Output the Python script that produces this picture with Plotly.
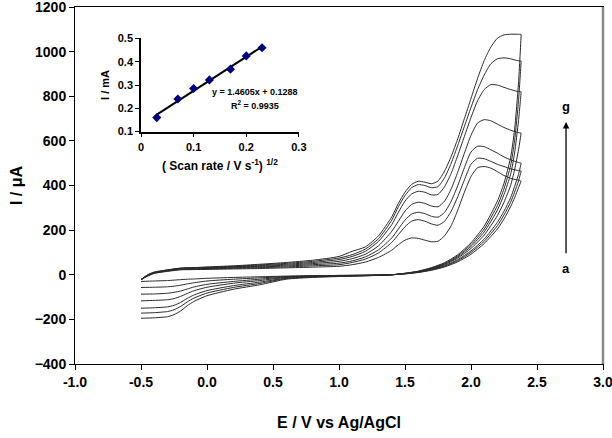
import plotly.graph_objects as go

# ---------------- data ----------------
curve_names = ["a", "b", "c", "d", "e", "f", "g"]

E_fwd = [-0.5, -0.45, -0.4, -0.3, -0.2, -0.1, 0.0, 0.2, 0.4, 0.6, 0.8, 1.0, 1.1, 1.2, 1.3,
         1.4, 1.45, 1.5, 1.55, 1.6, 1.65, 1.7, 1.75, 1.8, 1.85, 1.9, 1.95, 2.0, 2.05, 2.1,
         2.15, 2.2, 2.25, 2.3, 2.35, 2.38]

I_fwd = {
    "a": [-22, -6, 6, 15, 22, 23, 24, 26, 28, 31, 34, 38, 45, 57, 78,
          110, 135, 155, 165, 163, 155, 148, 150, 175, 220, 290, 370, 440, 480, 485,
          478, 462, 445, 432, 425, 420],
    "b": [-22, -5, 7, 17, 24, 25, 26, 29, 32, 35, 40, 45, 55, 70, 98,
          145, 180, 215, 240, 247, 240, 228, 222, 240, 285, 350, 425, 495, 522, 520,
          508, 495, 485, 475, 468, 465],
    "c": [-22, -4, 8, 18, 26, 27, 28, 31, 35, 39, 45, 52, 62, 80, 112,
          165, 205, 245, 272, 280, 274, 262, 258, 280, 330, 400, 480, 550, 576, 574,
          560, 545, 528, 515, 505, 500],
    "d": [-22, -3, 9, 19, 27, 29, 30, 34, 38, 43, 50, 60, 72, 92, 130,
          195, 240, 285, 315, 325, 320, 308, 305, 330, 385, 460, 545, 625, 680, 695,
          690, 675, 660, 648, 638, 635],
    "e": [-22, -2, 10, 20, 28, 30, 32, 36, 41, 47, 55, 68, 82, 105, 150,
          225, 280, 330, 362, 374, 370, 358, 360, 395, 455, 535, 620, 705, 780, 830,
          852, 850, 840, 830, 822, 820],
    "f": [-22, -1, 11, 21, 29, 31, 33, 38, 44, 51, 60, 75, 90, 115, 162,
          245, 305, 355, 390, 404, 400, 390, 395, 435, 500, 580, 665, 750, 830, 895,
          945, 968, 972, 968, 960, 958],
    "g": [-22, 0, 12, 22, 30, 32, 35, 40, 47, 55, 65, 82, 105, 125, 175,
          260, 320, 370, 405, 419, 415, 408, 420, 465, 530, 610, 700, 790, 880, 960,
          1020, 1060, 1075, 1078, 1078, 1077],
}

E_rev = [2.38, 2.36, 2.33, 2.3, 2.25, 2.2, 2.1, 2.0, 1.9, 1.8, 1.7, 1.6, 1.5, 1.4, 1.2,
         1.0, 0.8, 0.6, 0.4, 0.2, 0.0, -0.1, -0.15, -0.2, -0.25, -0.3, -0.4, -0.5]

I_rev = {
    "a": [420, 390, 345, 305, 250, 205, 140, 92, 58, 35, 20, 10, 4, 0, -2,
          -3, -4, -6, -9, -12, -16, -19, -20, -22, -24, -26, -28, -30],
    "b": [465, 420, 370, 325, 268, 220, 150, 100, 63, 38, 22, 11, 4, 0, -2,
          -3, -5, -8, -14, -20, -28, -36, -41, -47, -51, -54, -56, -57],
    "c": [500, 450, 395, 345, 285, 235, 160, 107, 68, 41, 24, 12, 5, 0, -2,
          -4, -6, -10, -20, -30, -43, -55, -64, -73, -79, -83, -86, -87],
    "d": [635, 560, 470, 400, 325, 265, 178, 118, 75, 45, 26, 13, 5, 0, -3,
          -5, -7, -12, -26, -38, -56, -72, -84, -97, -107, -112, -115, -117],
    "e": [820, 690, 545, 450, 360, 290, 192, 127, 80, 48, 28, 14, 6, 0, -4,
          -6, -9, -15, -33, -49, -71, -91, -106, -124, -137, -144, -148, -150],
    "f": [958, 780, 600, 490, 385, 310, 205, 135, 85, 51, 30, 15, 6, 0, -4,
          -7, -10, -17, -39, -57, -82, -105, -122, -142, -157, -165, -170, -172],
    "g": [1077, 860, 650, 525, 410, 330, 218, 143, 90, 54, 32, 16, 7, 0, -5,
          -8, -12, -20, -45, -65, -94, -120, -139, -162, -179, -188, -193, -195],
}

# inset data
scan_rate_sqrt = [0.03, 0.07, 0.10, 0.13, 0.17, 0.20, 0.23]
peak_current_mA = [0.160, 0.240, 0.285, 0.322, 0.368, 0.425, 0.460]
fit_slope = 1.4605
fit_intercept = 0.1288
fit_r2 = 0.9935
fit_x = [0.03, 0.23]

x_ticks = [-1.0, -0.5, 0.0, 0.5, 1.0, 1.5, 2.0, 2.5, 3.0]
y_ticks = [-400, -200, 0, 200, 400, 600, 800, 1000, 1200]

# ---------------- figure ----------------
FONT = "Liberation Sans, Arial, sans-serif"
fig = go.Figure()

for name in curve_names:
    fig.add_trace(go.Scatter(
        x=E_fwd + E_rev, y=I_fwd[name] + I_rev[name],
        mode="lines", line=dict(color="#2a2a2a", width=1, shape="spline", smoothing=0.6),
        showlegend=False, hoverinfo="skip", xaxis="x", yaxis="y"))

fig.add_trace(go.Scatter(
    x=fit_x, y=[fit_slope * v + fit_intercept for v in fit_x],
    mode="lines", line=dict(color="black", width=2),
    showlegend=False, xaxis="x2", yaxis="y2"))
fig.add_trace(go.Scatter(
    x=scan_rate_sqrt, y=peak_current_mA, mode="markers",
    marker=dict(symbol="diamond", size=7, color="#000080"),
    showlegend=False, xaxis="x2", yaxis="y2"))

fig.update_layout(
    width=612, height=438,
    margin=dict(l=75, r=9, t=7, b=74),
    paper_bgcolor="white", plot_bgcolor="white",
    font=dict(family=FONT, color="black", size=14, weight="bold"),
    xaxis=dict(domain=[0, 1], range=[-1.0, 3.0], tickvals=x_ticks,
               ticktext=[f"{v:.1f}" for v in x_ticks], automargin=False,
               ticklabeloverflow="allow",
               showline=True, linecolor="black", linewidth=1, mirror=True,
               ticks="outside", ticklen=5, tickcolor="black", showgrid=False, zeroline=False,
               tickfont=dict(size=14, weight="bold"),
               title=dict(text="E / V vs Ag/AgCl", font=dict(size=16, weight="bold"), standoff=28)),
    yaxis=dict(domain=[0, 1], range=[-400, 1200], tickvals=y_ticks, automargin=False,
               ticklabeloverflow="allow",
               showline=True, linecolor="black", linewidth=1, mirror=True,
               ticks="outside", ticklen=5, tickcolor="black", showgrid=False, zeroline=False,
               tickfont=dict(size=14, weight="bold"),
               title=dict(text="I / μA", font=dict(size=16, weight="bold"), standoff=8)),
    xaxis2=dict(domain=[0.125, 0.424], anchor="y2", range=[0, 0.3], dtick=0.1,
                automargin=False,
                showline=True, linecolor="black", linewidth=1.5, ticks="outside", ticklen=4,
                tickcolor="black", showgrid=False, zeroline=False,
                tickfont=dict(size=11, weight="bold"),
                title=dict(text="( Scan rate / V s<sup>-1</sup>) <sup>1/2</sup>",
                           font=dict(size=12, weight="bold"), standoff=10)),
    yaxis2=dict(domain=[0.651, 0.912], anchor="x2", range=[0.1, 0.5], dtick=0.1,
                automargin=False,
                showline=True, linecolor="black", linewidth=1.5, ticks="outside", ticklen=4,
                tickcolor="black", showgrid=False, zeroline=False,
                tickfont=dict(size=11, weight="bold"),
                title=dict(text="I / mA", font=dict(size=11, weight="bold"), standoff=6)),
)

# gray right border of the plot area
fig.add_shape(type="line", xref="paper", yref="paper", x0=1, x1=1, y0=0, y1=1,
              line=dict(color="#888888", width=2.5))

# fit equation
fig.add_annotation(x=0.216, y=0.270, xref="x2", yref="y2",
                   text=f"y = {fit_slope}x + {fit_intercept}", showarrow=False,
                   font=dict(size=9, weight="bold"))
fig.add_annotation(x=0.216, y=0.213, xref="x2", yref="y2",
                   text=f"R<sup>2</sup> = {fit_r2}", showarrow=False,
                   font=dict(size=9, weight="bold"))

# scan-rate arrow a -> g
fig.add_annotation(x=2.72, y=685, ax=2.72, ay=90, xref="x", yref="y", axref="x", ayref="y",
                   text="", showarrow=True, arrowhead=2, arrowsize=1, arrowwidth=1.3,
                   arrowcolor="black")
fig.add_annotation(x=2.72, y=755, xref="x", yref="y", text="g", showarrow=False,
                   font=dict(size=13, weight="bold"))
fig.add_annotation(x=2.72, y=30, xref="x", yref="y", text="a", showarrow=False,
                   font=dict(size=13, weight="bold"))

fig.write_html("out.html")
